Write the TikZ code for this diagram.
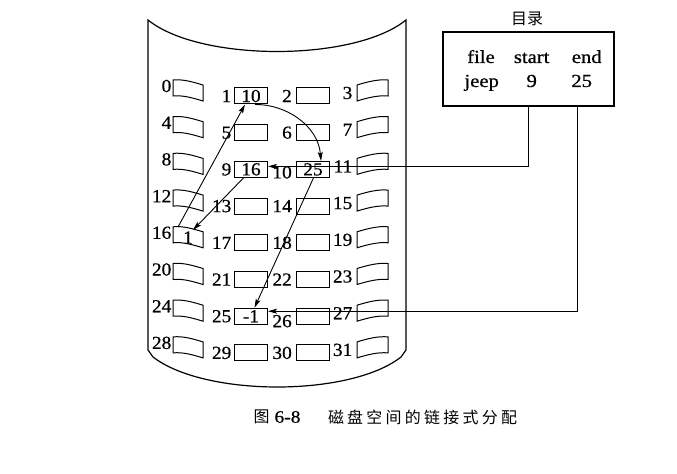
\documentclass[tikz,border=0pt]{standalone}
\usepackage{fontspec}
\setmainfont{Liberation Serif}
\newfontfamily\cjk{Noto Sans CJK SC}
\newfontfamily\widef[FakeStretch=1.12,FakeBold=0.6]{Liberation Serif}
\newfontfamily\gridf[FakeStretch=1.05,FakeBold=0.6]{Liberation Serif}
\usetikzlibrary{arrows.meta}
\tikzset{
  outline/.style={line width=1.2bp},
  blkbox/.style={draw, line width=1bp, minimum width=33bp, minimum height=16bp, inner sep=0pt, font=\gridf\fontsize{18.5}{19}\selectfont},
  numlab/.style={anchor=east, inner sep=0pt, font=\gridf\fontsize{18.5}{19}\selectfont},
  blkpath/.style={line width=1bp},
  conn/.style={line width=0.9bp},
  arr/.style={conn, -{Stealth[length=9bp,width=5bp,inset=2bp]}},
  dirtext/.style={anchor=base, inner sep=0pt, font=\widef\fontsize{18.5}{20}\selectfont},
  cjktext/.style={inner sep=0pt, font=\cjk\fontsize{16}{17}\selectfont},
}
\begin{document}
\begin{tikzpicture}[x=1bp,y=-1bp]
\useasboundingbox (0,0) rectangle (677,474);
\fill[white] (0,0) rectangle (677,474);

% disk outline
\draw[outline] (148,20) .. controls (200,62) and (354,62) .. (406,20) -- (406,350) -- (401,357)
  .. controls (350,397) and (205,397) .. (153,357) -- (148,350) -- cycle;

% blocks
\foreach \r/\a/\b/\d in {0/10/{}/0,1/{}/{}/0,2/16/25/3,3/{}/{}/0,4/{}/{}/0,5/{}/{}/0,6/-1/{}/5,7/{}/{}/0}{
  \pgfmathsetmacro\yo{80+36.7*\r}
  \pgfmathsetmacro\ym{96+36.7*\r}
  \pgfmathtruncatemacro\nz{4*\r}
  \pgfmathtruncatemacro\na{4*\r+1}
  \pgfmathtruncatemacro\nb{4*\r+2}
  \pgfmathtruncatemacro\nc{4*\r+3}
  % column 0
  \draw[blkpath] (173,\yo) .. controls (183,\yo-1) and (193,\yo+2) .. (203,\yo+5)
    -- (203,\yo+21) .. controls (193,\yo+18) and (183,\yo+15) .. (173,\yo+16) -- cycle;
  \node[numlab] (l\nz) at (171.5,\yo+6) {\nz};
  % column 3
  \draw[blkpath] (357,\yo+5) .. controls (367,\yo+2) and (378,\yo-1) .. (388,\yo)
    -- (388,\yo+16) .. controls (378,\yo+15) and (367,\yo+18) .. (357,\yo+21) -- cycle;
  \node[numlab] (l\nc) at (352.5,\yo+13) {\nc};
  % middle columns
  \node[blkbox] (b\na) at (251,\ym) {\a};
  \node[blkbox] (b\nb) at (313,\ym) {\b};
  \node[numlab] (l\na) at (231.5,\ym) {\na};
  \node[numlab] (l\nb) at (292,\ym+\d) {\nb};
}
% content of block 16
\node[inner sep=0pt, font=\gridf\fontsize{18.5}{19}\selectfont] (blk16) at (188,237.5) {1};
\coordinate (p16top) at (193,230);
\coordinate (p16tl) at (178,227);

% directory
\node[cjktext] (dirtitle) at (527,19) {目录};
\node[draw, line width=1.1bp, minimum width=171bp, minimum height=74bp, inner sep=0pt] (dir) at (528.5,69) {};
\node[dirtext] (tfile) at (481,63) {file};
\node[dirtext] (tstart) at (531.7,63) {start};
\node[dirtext] (tend) at (586.7,63) {end};
\node[dirtext] (tjeep) at (481.7,87) {jeep};
\node[dirtext] (tnine) at (531.7,87) {9};
\node[dirtext] (ttf) at (581.7,87) {25};
\coordinate (ds) at (528,106);
\coordinate (de) at (577,106);

% connectors
\draw[arr] (ds) |- ([yshift=3bp]b9.east);
\draw[arr] (de) |- ([yshift=5bp]b25.east);
\draw[arr] ([xshift=-7.5bp]b9.south) -- (p16top);
\draw[arr] (p16tl) -- ([xshift=-6bp]b1.south);
\draw[arr] ([xshift=4bp]b1.south) .. controls (285,104) and (318,125) .. ([xshift=8bp]b10.north);
\draw[arr] ([xshift=0.5bp]b10.south) -- ([xshift=3.5bp]b25.north);

% caption
\node[cjktext] (figno) at (261.5,417) {图};
\node[inner sep=0pt, font=\widef\fontsize{17.5}{18}\selectfont] (fignum) at (287.5,417) {6-8};
\node[cjktext] (figtitle) at (422.5,417) {\makebox[189bp][s]{磁 盘 空 间 的 链 接 式 分 配}};
\end{tikzpicture}
\end{document}
